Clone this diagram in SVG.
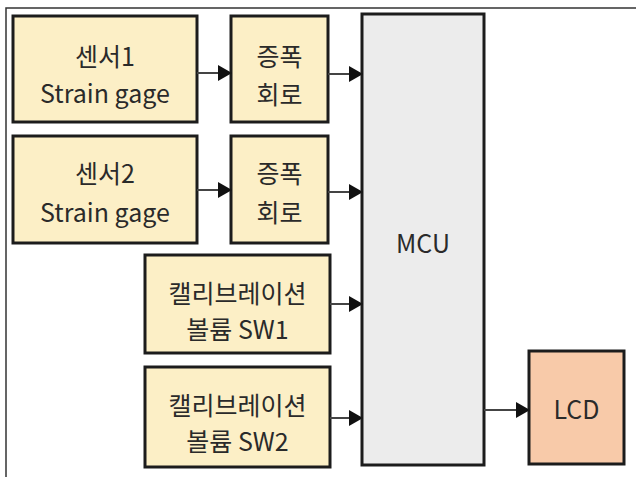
<svg xmlns="http://www.w3.org/2000/svg" width="636" height="477" viewBox="0 0 636 477">
<style>
.box{fill:#fcefc6;stroke:#1c1c1c;stroke-width:3}
.mcu{fill:#ececec;stroke:#1c1c1c;stroke-width:3}
.lcd{fill:#f8caa9;stroke:#1c1c1c;stroke-width:3}
.t{font-family:"Noto Sans CJK KR","Noto Sans",sans-serif;font-size:25px;fill:#2a2a2a;text-anchor:middle;dominant-baseline:central}
.c{stroke:#444;stroke-width:2;fill:none;marker-end:url(#ah)}
</style>
<defs>
<marker id="ah" markerUnits="userSpaceOnUse" markerWidth="14" markerHeight="16" refX="13" refY="8" orient="auto">
<path d="M0,0 L14,8 L0,16 Z" fill="#111"/>
</marker>
</defs>
<rect x="0" y="0" width="636" height="477" fill="#fff"/>
<path d="M6,477 V8 H636" fill="none" stroke="#333" stroke-width="1.5"/>
<g id="sensor1"><rect class="box" x="13" y="16" width="184" height="106"/><text class="t" x="105" y="55">센서1</text><text class="t" x="105" y="92">Strain gage</text></g>
<g id="amp1"><rect class="box" x="231" y="16" width="97" height="106"/><text class="t" x="279.5" y="55">증폭</text><text class="t" x="279.5" y="93">회로</text></g>
<g id="sensor2"><rect class="box" x="13" y="136" width="184" height="107"/><text class="t" x="105" y="172">센서2</text><text class="t" x="105" y="211">Strain gage</text></g>
<g id="amp2"><rect class="box" x="231" y="136" width="97" height="107"/><text class="t" x="279.5" y="172">증폭</text><text class="t" x="279.5" y="211">회로</text></g>
<g id="cal1"><rect class="box" x="145" y="255" width="185" height="98"/><text class="t" x="237.5" y="292">캘리브레이션</text><text class="t" x="237.5" y="328">볼륨 SW1</text></g>
<g id="cal2"><rect class="box" x="145" y="367" width="185" height="100"/><text class="t" x="237.5" y="404">캘리브레이션</text><text class="t" x="237.5" y="440">볼륨 SW2</text></g>
<g id="mcu"><rect class="mcu" x="362" y="14" width="122" height="451"/><text class="t" x="423" y="242">MCU</text></g>
<g id="lcd"><rect class="lcd" x="529" y="351" width="95" height="113"/><text class="t" x="576.5" y="408">LCD</text></g>
<g id="connectors">
<line class="c" x1="197" y1="73" x2="231" y2="73"/>
<line class="c" x1="328" y1="74" x2="362" y2="74"/>
<line class="c" x1="197" y1="190" x2="231" y2="190"/>
<line class="c" x1="328" y1="192" x2="362" y2="192"/>
<line class="c" x1="330" y1="304" x2="362" y2="304"/>
<line class="c" x1="330" y1="418" x2="362" y2="418"/>
<line class="c" x1="484" y1="410" x2="529" y2="410"/>
</g>
</svg>
